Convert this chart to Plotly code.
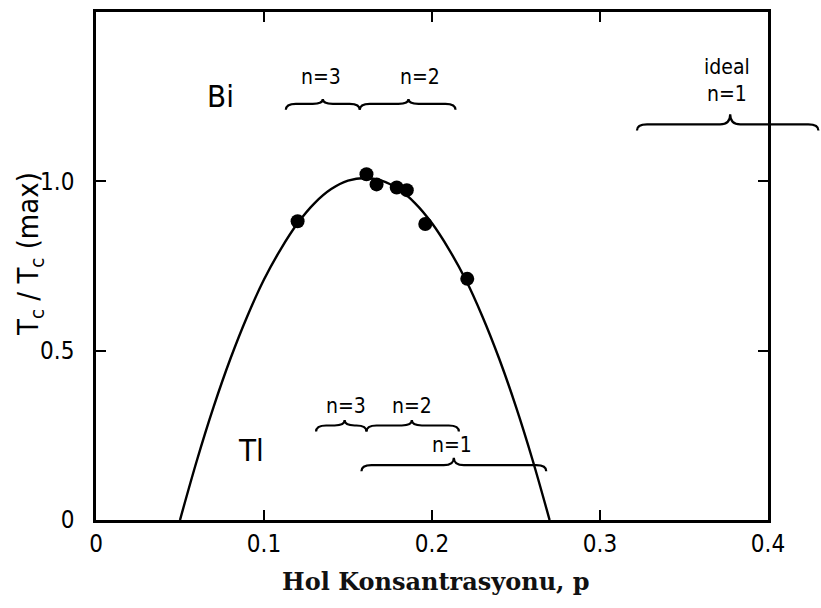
import plotly.graph_objects as go

# Hole concentration p vs. normalised critical temperature
p_points = [0.120, 0.161, 0.167, 0.179, 0.185, 0.196, 0.221]
tc_points = [0.882, 1.021, 0.991, 0.982, 0.974, 0.874, 0.712]

# Dome-shaped Tc(p) curve, as traced
p_curve = [0.050, 0.060, 0.070, 0.080, 0.090, 0.100, 0.110, 0.120, 0.130, 0.140,
           0.150, 0.160, 0.170, 0.180, 0.190, 0.200, 0.210, 0.220, 0.230, 0.240,
           0.250, 0.260, 0.270]
tc_curve = [0.000, 0.175, 0.334, 0.476, 0.601, 0.710, 0.800, 0.876, 0.935, 0.977,
            1.002, 1.010, 1.002, 0.977, 0.935, 0.876, 0.800, 0.710, 0.601, 0.476,
            0.334, 0.175, 0.000]

x_ticks = [0, 0.1, 0.2, 0.3, 0.4]
x_tick_text = ["0", "0.1", "0.2", "0.3", "0.4"]
y_ticks = [0, 0.5, 1.0]
y_tick_text = ["0", "0.5", "1.0"]

X_RANGE = [0, 0.4]
Y_RANGE = [0, 1.5]

# Braces: (start p, end p, tip p, baseline Tc/Tcmax, tip height)
braces = [
    (0.113, 0.157, 0.135, 1.229, 0.014),
    (0.157, 0.214, 0.186, 1.229, 0.014),
    (0.131, 0.161, 0.148, 0.279, 0.016),
    (0.161, 0.216, 0.188, 0.279, 0.016),
    (0.158, 0.268, 0.213, 0.162, 0.022),
    (0.322, 0.430, 0.3775, 1.168, 0.030),
]

# Labels over the braces: text, p, Tc/Tcmax
brace_labels = ["n=3", "n=2", "n=3", "n=2", "n=1", "ideal", "n=1"]
brace_label_p = [0.134, 0.193, 0.149, 0.188, 0.212, 0.3755, 0.3755]
brace_label_y = [1.309, 1.309, 0.338, 0.338, 0.221, 1.337, 1.258]

family_labels = ["Bi", "Tl"]
family_p = [0.074, 0.092]
family_y = [1.253, 0.206]

COND = "Liberation Sans Narrow, DejaVu Sans Condensed, DejaVu Sans, sans-serif"


def px(v):
    return (v - X_RANGE[0]) / (X_RANGE[1] - X_RANGE[0])


def py(v):
    return (v - Y_RANGE[0]) / (Y_RANGE[1] - Y_RANGE[0])


def brace_path(x0, x1, xm, y, tip):
    hook = 0.018
    r = 0.006
    X0, X1, XM = px(x0), px(x1), px(xm)
    Y, YD, YT = py(y), py(y - hook), py(y + tip)
    R = r / (X_RANGE[1] - X_RANGE[0])
    return (f"M {X0},{YD} Q {X0},{Y} {X0 + R},{Y} "
            f"L {XM - R},{Y} Q {XM},{Y} {XM},{YT} "
            f"Q {XM},{Y} {XM + R},{Y} "
            f"L {X1 - R},{Y} Q {X1},{Y} {X1},{YD}")


fig = go.Figure()

fig.add_trace(go.Scatter(
    x=p_curve, y=tc_curve, mode="lines", line_shape="spline",
    line=dict(color="black", width=2.4), showlegend=False, hoverinfo="skip",
))
fig.add_trace(go.Scatter(
    x=p_points, y=tc_points, mode="markers",
    marker=dict(color="black", size=14), showlegend=False,
))

shapes = [dict(type="path", xref="paper", yref="paper",
               path=brace_path(x0, x1, xm, y, tip),
               line=dict(color="black", width=2.2))
          for (x0, x1, xm, y, tip) in braces]

annotations = []
for label, lx, ly in zip(brace_labels, brace_label_p, brace_label_y):
    annotations.append(dict(x=px(lx), y=py(ly), xref="paper", yref="paper",
                            xanchor="center", yanchor="middle",
                            text=label, showarrow=False,
                            font=dict(family=COND, size=21, color="black")))

for name, fx, fy in zip(family_labels, family_p, family_y):
    annotations.append(dict(x=px(fx), y=py(fy), xref="paper", yref="paper",
                            xanchor="center", yanchor="middle",
                            text=name, showarrow=False,
                            font=dict(family=COND, size=31, color="black")))

annotations.append(dict(
    x=0.506, y=-0.122, xref="paper", yref="paper", showarrow=False,
    xanchor="center", yanchor="middle",
    text="<b>Hol Konsantrasyonu, p</b>",
    font=dict(family="DejaVu Serif, Liberation Serif, serif", size=24, color="#111111"),
))
annotations.append(dict(
    x=-0.098, y=0.524, xref="paper", yref="paper", showarrow=False, textangle=-90,
    xanchor="center", yanchor="middle",
    text="T<sub>c</sub> / T<sub>c</sub> (max)",
    font=dict(family=COND, size=29, color="black"),
))

axis_common = dict(
    showline=True, linecolor="black", linewidth=2.5, mirror="ticks",
    ticks="inside", ticklen=10, tickwidth=2, tickcolor="black",
    showgrid=False, zeroline=False,
    tickfont=dict(family=COND, size=24, color="black"),
)

fig.update_layout(
    width=821, height=608,
    margin=dict(l=96, r=53, t=9, b=88),
    paper_bgcolor="white", plot_bgcolor="white",
    xaxis=dict(range=X_RANGE, tickvals=x_ticks, ticktext=x_tick_text, **axis_common),
    yaxis=dict(range=Y_RANGE, tickvals=y_ticks, ticktext=y_tick_text,
               ticklabelstandoff=14, **axis_common),
    shapes=shapes, annotations=annotations,
)

fig.write_html("out.html")
